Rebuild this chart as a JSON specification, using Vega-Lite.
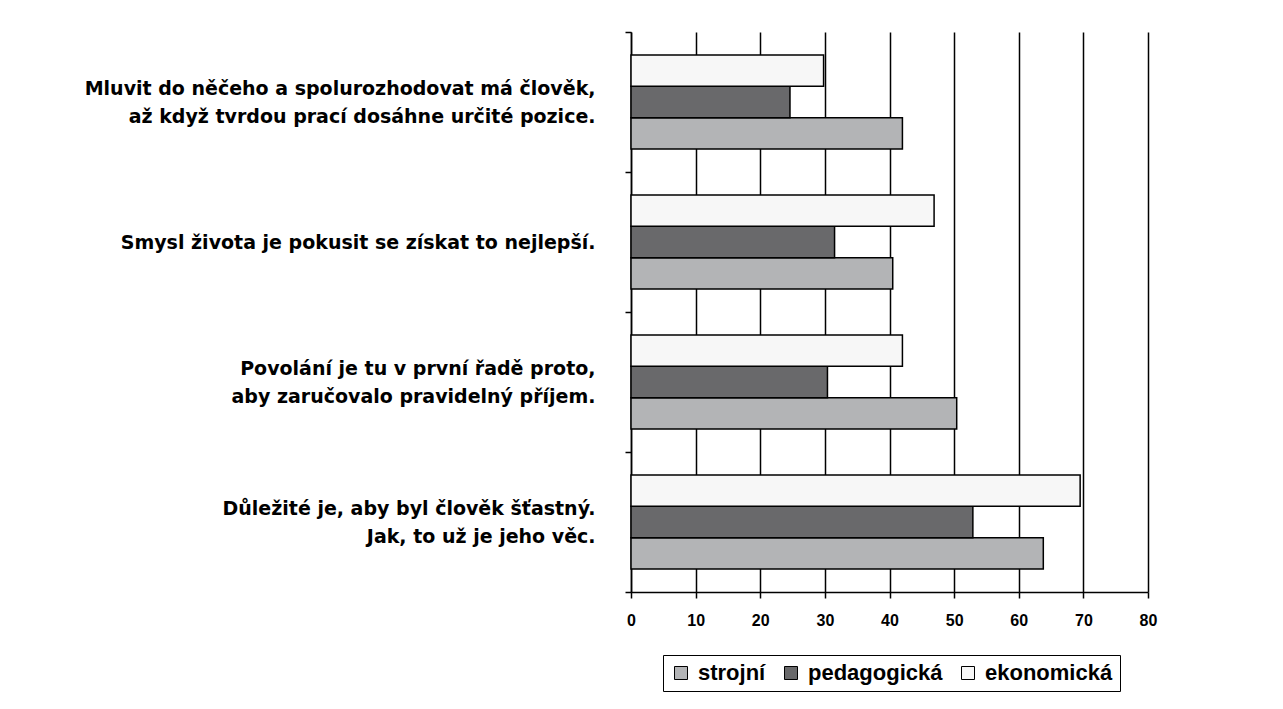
{
  "$schema": "https://vega.github.io/schema/vega-lite/v6.json",
  "width": 517,
  "height": 560,
  "autosize": {"type": "none"},
  "padding": {"left": 631, "top": 32, "right": 135, "bottom": 117},
  "background": "white",
  "config": {"view": {"stroke": null}, "font": "Liberation Sans"},
  "data": {
    "values": [
      {"q": "Mluvit do něčeho a spolurozhodovat má člověk,|až když tvrdou prací dosáhne určité pozice.", "s": "strojní", "v": 42.0},
      {"q": "Mluvit do něčeho a spolurozhodovat má člověk,|až když tvrdou prací dosáhne určité pozice.", "s": "pedagogická", "v": 24.6},
      {"q": "Mluvit do něčeho a spolurozhodovat má člověk,|až když tvrdou prací dosáhne určité pozice.", "s": "ekonomická", "v": 29.8},
      {"q": "Smysl života je pokusit se získat to nejlepší.", "s": "strojní", "v": 40.5},
      {"q": "Smysl života je pokusit se získat to nejlepší.", "s": "pedagogická", "v": 31.5},
      {"q": "Smysl života je pokusit se získat to nejlepší.", "s": "ekonomická", "v": 46.9},
      {"q": "Povolání je tu v první řadě proto, |aby zaručovalo pravidelný příjem.", "s": "strojní", "v": 50.4},
      {"q": "Povolání je tu v první řadě proto, |aby zaručovalo pravidelný příjem.", "s": "pedagogická", "v": 30.4},
      {"q": "Povolání je tu v první řadě proto, |aby zaručovalo pravidelný příjem.", "s": "ekonomická", "v": 42.0},
      {"q": "Důležité je, aby byl člověk šťastný.|Jak, to už je jeho věc.", "s": "strojní", "v": 63.8},
      {"q": "Důležité je, aby byl člověk šťastný.|Jak, to už je jeho věc.", "s": "pedagogická", "v": 52.9},
      {"q": "Důležité je, aby byl člověk šťastný.|Jak, to už je jeho věc.", "s": "ekonomická", "v": 69.5}
    ]
  },
  "mark": {"type": "bar", "stroke": "black", "strokeWidth": 1.5},
  "encoding": {
    "y": {
      "field": "q",
      "type": "nominal",
      "sort": null,
      "scale": {"paddingInner": 0, "paddingOuter": 0},
      "axis": {
        "title": null,
        "labelExpr": "split(datum.label, '|')",
        "labelFont": "DejaVu Sans",
        "labelFontWeight": "bold",
        "labelFontSize": 19,
        "labelColor": "black",
        "labelLineHeight": 28,
        "labelBaseline": {"condition": {"test": "datum && isString(datum.value) && indexof(datum.value, '|') >= 0", "value": "line-bottom"}, "value": "middle"},
        "labelPadding": 30,
        "labelLimit": 800,
        "tickBand": "extent",
        "tickSize": 6,
        "tickColor": "black",
        "tickWidth": 1.5,
        "domainColor": "black",
        "domainWidth": 1.5,
        "grid": false
      }
    },
    "yOffset": {
      "field": "s",
      "sort": ["ekonomická", "pedagogická", "strojní"],
      "scale": {"paddingInner": 0, "paddingOuter": 0.734}
    },
    "x": {
      "field": "v",
      "type": "quantitative",
      "scale": {"domain": [0, 80], "nice": false},
      "axis": {
        "title": null,
        "values": [0, 10, 20, 30, 40, 50, 60, 70, 80],
        "grid": true,
        "gridColor": "black",
        "gridWidth": 1.5,
        "gridOpacity": 1,
        "domainColor": "black",
        "domainWidth": 1.5,
        "tickColor": "black",
        "tickSize": 6,
        "tickWidth": 1.5,
        "labelFont": "Liberation Sans",
        "labelFontWeight": "bold",
        "labelFontSize": 16,
        "labelColor": "black",
        "labelPadding": 14,
        "labelFlush": false
      }
    },
    "color": {
      "field": "s",
      "type": "nominal",
      "scale": {"domain": ["strojní", "pedagogická", "ekonomická"], "range": ["#b3b4b6", "#69696b", "#f7f7f7"]},
      "legend": {
        "title": null,
        "orient": "none",
        "legendX": 32,
        "legendY": 623,
        "direction": "horizontal",
        "symbolType": "square",
        "symbolSize": 169,
        "symbolStrokeColor": "black",
        "symbolStrokeWidth": 1,
        "symbolOpacity": 1,
        "labelFont": "Liberation Sans",
        "labelFontWeight": "bold",
        "labelFontSize": 22,
        "labelColor": "black",
        "labelOffset": 6,
        "columnPadding": 14,
        "padding": 7,
        "strokeColor": "black",
        "fillColor": "white"
      }
    }
  }
}
